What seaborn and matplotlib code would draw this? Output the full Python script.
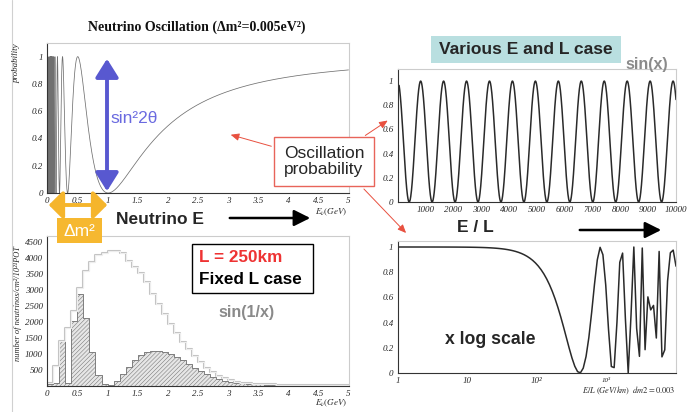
import numpy as np
import pandas as pd
import matplotlib
matplotlib.use("Agg")
import matplotlib.pyplot as plt
import seaborn as sns
from matplotlib.patches import Rectangle, FancyArrowPatch
from matplotlib.ticker import MultipleLocator

# ---- values ----
dm2_top = 0.005        # eV^2  (title of top-left panel)
baseline_km = 250      # L = 250km
dm2_right = 0.003      # dm2=0.003 (right panels)

# neutrino flux histogram, 0.1 GeV bins from 0 to 5 GeV
flux = [100, 630, 1400, 1800, 2360, 3060, 3610, 3870, 4100, 4160,
        4230, 4230, 4160, 3930, 3740, 3530, 3250, 2880, 2560, 2240,
        1950, 1650, 1380, 1140, 920, 730, 560, 420, 310, 230,
        170, 130, 100, 80, 65, 55, 45, 38, 32, 27,
        23, 20, 17, 15, 13, 11, 10, 9, 8, 7]
oscillated = [60, 100, 1400, 90, 2030, 2880, 2110, 1050, 340, 50,
              10, 150, 370, 590, 800, 950, 1050, 1080, 1090, 1060,
              1000, 900, 800, 680, 560, 450, 360, 280, 210, 160,
              120, 95, 75, 60, 50, 42, 36, 30, 26, 22,
              19, 16, 14, 12, 10, 9, 8, 7, 6, 6]
bin_edges = [round(0.1 * i, 1) for i in range(51)]

# ---- oscillation curves: P = 1 - sin^2(1.27 dm2 L/E) ----
energy = np.linspace(0.002, 5, 20000)
prob_E = 1 - np.sin(1.27 * dm2_top * baseline_km / energy) ** 2
x_lin = np.linspace(50, 10000, 1500)
prob_lin = 1 - np.sin(1.27 * dm2_right * x_lin) ** 2
x_log = np.logspace(0, 4, 100)
prob_log = 1 - np.sin(1.27 * dm2_right * x_log) ** 2

centers = [e + 0.05 for e in bin_edges[:-1]]
hist_df = pd.DataFrame({"E": centers, "flux": flux, "osc": oscillated})

sns.set_theme(style="white")
plt.rcParams["hatch.linewidth"] = 0.35
plt.rcParams["hatch.color"] = "#7a7a7a"
plt.rcParams["mathtext.fontset"] = "stix"

W, H = 697, 412
fig = plt.figure(figsize=(6.97, 4.12), dpi=100)


def box(x0, y0, x1, y1):
    return [x0 / W, 1 - y1 / H, (x1 - x0) / W, (y1 - y0) / H]


serif = dict(fontfamily="Liberation Serif", fontstyle="italic", fontsize=6.5)


def root_style(ax):
    for s in ["top", "right"]:
        ax.spines[s].set_color("#cccccc")
        ax.spines[s].set_linewidth(0.8)
    for s in ["left", "bottom"]:
        ax.spines[s].set_color("#333333")
        ax.spines[s].set_linewidth(0.8)
    ax.tick_params(which="both", direction="in", top=False, right=False,
                   color="#333333", width=0.6, pad=3)
    ax.tick_params(which="major", length=5)
    ax.tick_params(which="minor", length=2.5)
    ax.set_xlabel("")
    ax.set_ylabel("")


e_ticks = ["0", "0.5", "1", "1.5", "2", "2.5", "3", "3.5", "4", "4.5", "5"]
p_ticks = ["0", "0.2", "0.4", "0.6", "0.8", "1"]

# top-left: probability vs neutrino energy
ax1 = fig.add_axes(box(47.3, 43, 348.5, 193))
sns.lineplot(x=energy, y=prob_E, ax=ax1, color="#707070", linewidth=0.55,
             estimator=None, sort=False)
ax1.set_xlim(0, 5)
ax1.set_ylim(0, 1.1)
root_style(ax1)
ax1.set_xticks(np.arange(0, 5.01, 0.5), e_ticks, **serif)
ax1.set_yticks(np.arange(0, 1.01, 0.2), p_ticks, **serif)
ax1.xaxis.set_minor_locator(MultipleLocator(0.1))
ax1.yaxis.set_minor_locator(MultipleLocator(0.04))

# bottom-left: flux histograms
ax2 = fig.add_axes(box(47.3, 236, 348.5, 385.7))
hist_kw = dict(data=hist_df, x="E", bins=bin_edges, ax=ax2)
sns.histplot(weights="flux", element="step", fill=False, color="#c4c4c4",
             linewidth=1.5, **hist_kw)
sns.histplot(weights="flux", element="step", fill=False, color="white",
             linewidth=0.5, **hist_kw)
sns.histplot(weights="osc", element="step", fill=True, facecolor="#e6e6e6",
             edgecolor="#6e6e6e", linewidth=0.6, alpha=1, hatch="////////", **hist_kw)
ax2.set_xlim(0, 5)
ax2.set_ylim(0, 4700)
root_style(ax2)
ax2.set_xticks(np.arange(0, 5.01, 0.5), e_ticks, **serif)
ax2.set_yticks(np.arange(500, 4501, 500), [str(v) for v in range(500, 4501, 500)], **serif)
ax2.xaxis.set_minor_locator(MultipleLocator(0.1))
ax2.yaxis.set_minor_locator(MultipleLocator(100))

# top-right: linear E/L
ax3 = fig.add_axes(box(397.7, 69, 676, 202))
sns.lineplot(x=x_lin, y=prob_lin, ax=ax3, color="#2a2a2a", linewidth=1.1,
             estimator=None, sort=False)
ax3.set_xlim(0, 10000)
ax3.set_ylim(0, 1.1)
root_style(ax3)
ax3.set_xticks(np.arange(1000, 10001, 1000), [str(v) for v in range(1000, 10001, 1000)], **serif)
ax3.set_yticks(np.arange(0, 1.01, 0.2), p_ticks, **serif)
ax3.xaxis.set_minor_locator(MultipleLocator(200))
ax3.yaxis.set_minor_locator(MultipleLocator(0.04))

# bottom-right: log E/L
ax4 = fig.add_axes(box(397.7, 240.7, 676, 373))
ax4.set_xscale("log")
sns.lineplot(x=x_log, y=prob_log, ax=ax4, color="#2a2a2a", linewidth=1.1,
             estimator=None, sort=False)
ax4.set_xlim(1, 1e4)
ax4.set_ylim(0, 1.05)
root_style(ax4)
ax4.set_xticks([1, 10, 100, 1000], ["1", "10", "10²", ""], **serif)
ax4.set_yticks(np.arange(0, 1.01, 0.2), p_ticks, **serif)

# ---- slide overlay in pixel coordinates ----
ov = fig.add_axes([0, 0, 1, 1], zorder=10)
ov.set_xlim(0, W)
ov.set_ylim(H, 0)
ov.axis("off")
ov.patch.set_alpha(0)

ov.plot([12, 12], [0, H], color="#d0d0d0", lw=0.8)

sans = "Liberation Sans"
ov.text(197, 27, "Neutrino Oscillation (Δm²=0.005eV²)", ha="center", va="center",
        fontfamily="Liberation Serif", fontweight="bold", fontsize=10, color="#111111")
ov.text(17, 43, "probability", rotation=90, ha="center", va="top",
        fontfamily="Liberation Serif", fontstyle="italic", fontsize=6.5)
ov.text(18, 304, "number of neutrinos/cm²/10²¹POT", rotation=90, ha="center", va="center",
        fontfamily="Liberation Serif", fontstyle="italic", fontsize=6)
ov.text(347, 212, r"$\mathit{E_\nu (GeV)}$", ha="right", va="center", fontsize=6.5)
ov.text(347, 403, r"$\mathit{E_\nu (GeV)}$", ha="right", va="center", fontsize=6.5)
# axis label of the log panel; the 10^3 tick label sits just above it, as on the slide
ov.text(606, 380, "10³", ha="center", va="center", fontfamily="Liberation Serif",
        fontstyle="italic", fontsize=5)
ov.text(676, 391, r"$\mathit{E/L\ (GeV/km)\ \ dm2=0.003}$", ha="right", va="center", fontsize=6)

# blue sin^2 2theta arrow
ov.add_patch(FancyArrowPatch((107, 56), (107, 194), arrowstyle="<|-|>,head_length=0.8,head_width=0.5",
                             mutation_scale=14, lw=2.8, color="#5858d0", zorder=5))
ov.text(110, 118, "sin²2θ", ha="left", va="center", fontfamily=sans, fontsize=12.5, color="#6a6ae0")

# orange dm2 arrow + box
ov.add_patch(FancyArrowPatch((46, 205), (110, 205), arrowstyle="<|-|>,head_length=0.6,head_width=0.6",
                             mutation_scale=14, lw=2.8, color="#f5b52c", zorder=5))
ov.add_patch(Rectangle((57, 218), 45, 25, facecolor="#f6b830", edgecolor="none", zorder=5))
ov.text(79.5, 231, "Δm²", ha="center", va="center", fontfamily=sans, fontsize=12.5, color="white", zorder=6)

# Neutrino E + arrow
ov.text(116, 219, "Neutrino E", ha="left", va="center", fontfamily=sans, fontweight="bold", fontsize=12.5)
ov.add_patch(FancyArrowPatch((227, 218), (313, 218), arrowstyle="-|>,head_length=0.7,head_width=0.35",
                             mutation_scale=14, lw=1.8, color="black"))

# red callout
ov.add_patch(Rectangle((274, 137), 100, 49, facecolor="white", edgecolor="#e8645a", lw=1, zorder=5))
ov.text(324, 161.5, "Oscillation\nprobability", ha="center", va="center", fontfamily=sans,
        fontsize=12.5, linespacing=1.1, zorder=6)
red_arrow = dict(arrowstyle="-|>,head_length=0.5,head_width=0.22", mutation_scale=10,
                 lw=0.7, color="#e8503f", zorder=6)
ov.add_patch(FancyArrowPatch((274, 147), (228, 134), **red_arrow))
ov.add_patch(FancyArrowPatch((363, 137), (390, 119), **red_arrow))
ov.add_patch(FancyArrowPatch((362, 187), (408, 235), **red_arrow))

# various E and L
ov.add_patch(Rectangle((431, 36), 190, 27, facecolor="#b9dfe0", edgecolor="none", zorder=5))
ov.text(526, 49.5, "Various E and L case", ha="center", va="center", fontfamily=sans,
        fontweight="bold", fontsize=12.5, zorder=6)
ov.text(647, 64, "sin(x)", ha="center", va="center", fontfamily=sans, fontweight="bold",
        fontsize=11.5, color="#8a8a8a")

# E / L arrow
ov.text(475, 227, "E / L", ha="center", va="center", fontfamily=sans, fontweight="bold", fontsize=12.5)
ov.add_patch(FancyArrowPatch((577, 230), (664, 230), arrowstyle="-|>,head_length=0.7,head_width=0.35",
                             mutation_scale=14, lw=1.8, color="black"))
ov.text(490, 339, "x log scale", ha="center", va="center", fontfamily=sans, fontweight="bold", fontsize=12.7)

# fixed L box
ov.add_patch(Rectangle((192, 244), 121, 49, facecolor="white", edgecolor="black", lw=1, zorder=5))
ov.text(199, 258, "L = 250km", ha="left", va="center", fontfamily=sans, fontweight="bold",
        fontsize=12.3, color="#ee3333", zorder=6)
ov.text(199, 280, "Fixed L case", ha="left", va="center", fontfamily=sans, fontweight="bold",
        fontsize=12.3, color="black", zorder=6)
ov.text(247, 312, "sin(1/x)", ha="center", va="center", fontfamily=sans, fontweight="bold",
        fontsize=11.5, color="#8a8a8a")

fig.savefig("out.png", dpi=100)
